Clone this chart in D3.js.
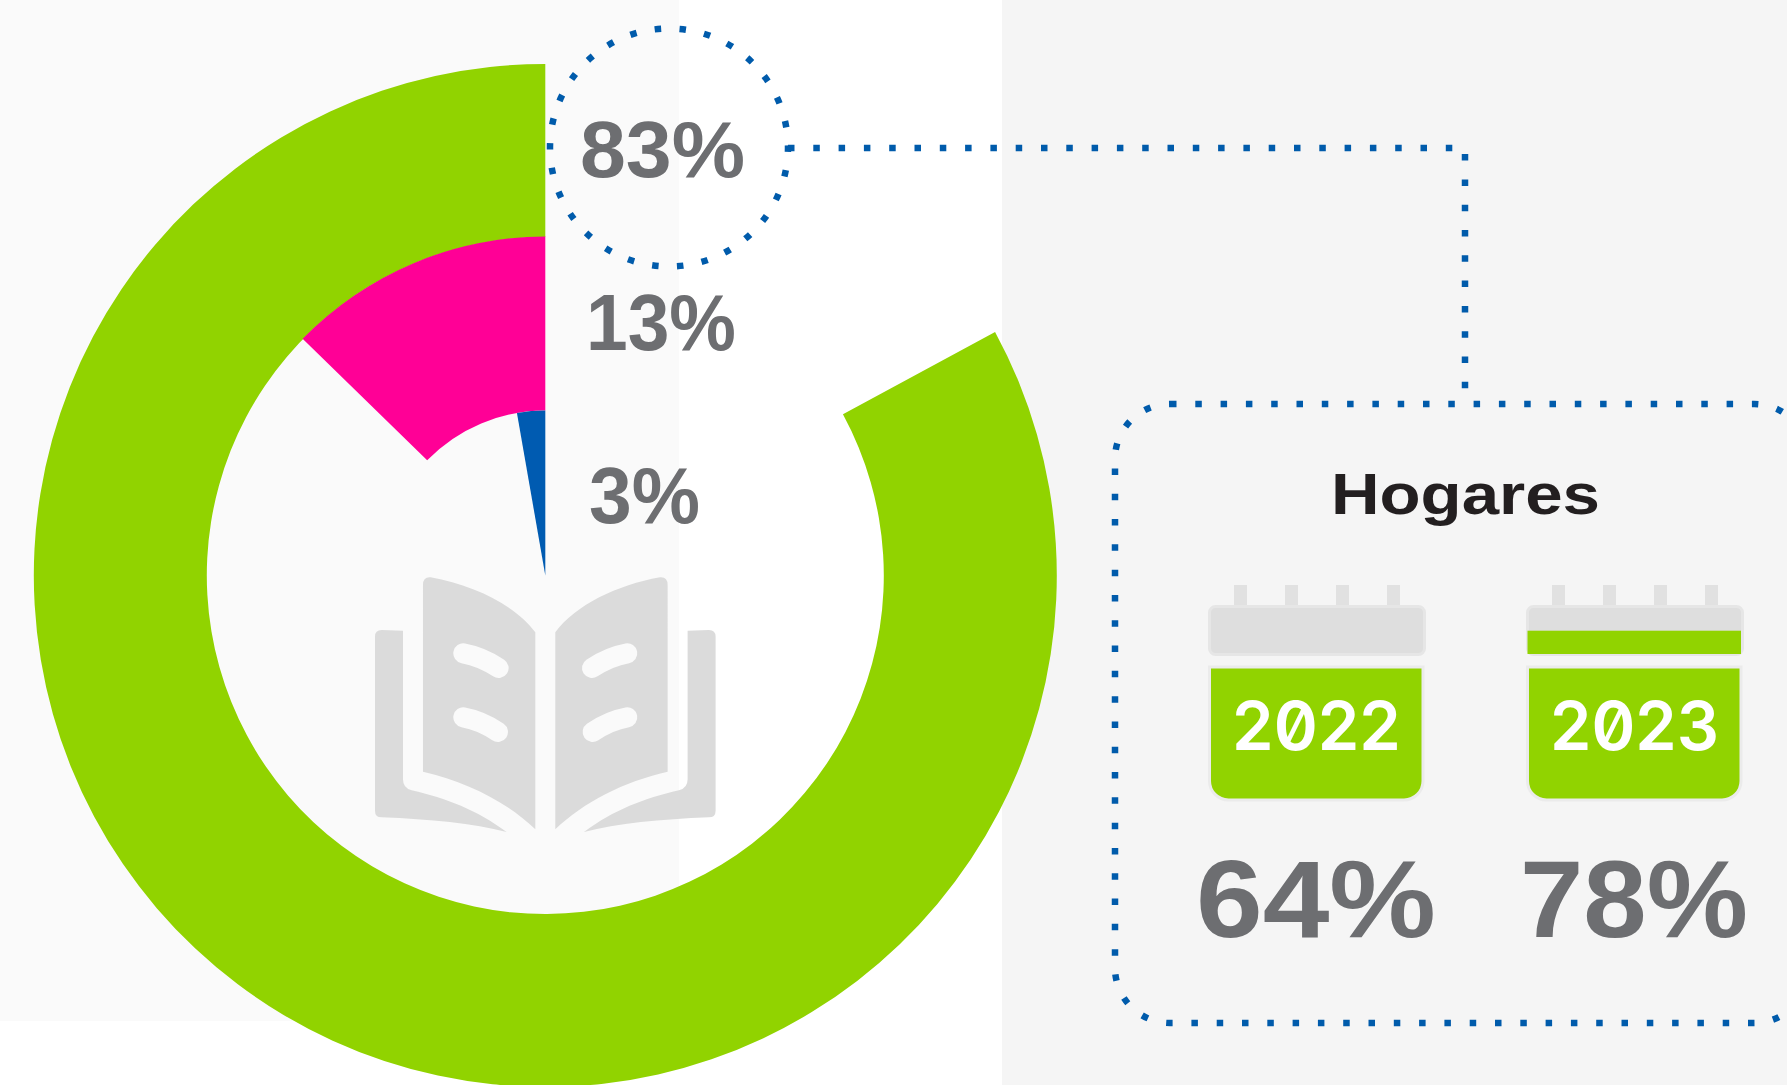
<!DOCTYPE html>
<html><head><meta charset="utf-8">
<script src="https://cdn.jsdelivr.net/npm/d3@7"></script>
<style>html,body{margin:0;padding:0;background:#fff;overflow:hidden}svg{display:block}</style>
</head><body><svg id="c" width="1787" height="1085"></svg>
<script>
const categories = ["A", "B", "C"];
const values = [82.9, 12.7, 2.75];
const valueLabels = ["83%", "13%", "3%"];
const ringColors = ["#91d300", "#ff0096", "#005bb1"];
const panelTitle = ["Hogares"];
const years = ["2022", "2023"];
const yearValues = [64, 78];

const svg = d3.select("#c");
const cx = 545.3, cy = 575.5;
const grey = "#6d6e71", dotBlue = "#005bab";

svg.append("rect").attr("x",0).attr("y",0).attr("width",679).attr("height",1021).attr("fill","#fafafa");
svg.append("rect").attr("x",1002).attr("y",0).attr("width",785).attr("height",1085).attr("fill","#f5f5f5");

// Donut rings, counter-clockwise from 12 o'clock
const angle = d3.scaleLinear().domain([0,100]).range([0,-2*Math.PI]);
const radius = d3.scaleOrdinal().domain(categories).range([[338.5,511.5],[165,339],[0,165]]);
const arc = d3.arc();
const g = svg.append("g").attr("transform",`translate(${cx},${cy})`);
g.selectAll("path").data(categories).join("path")
  .attr("fill",(d,i)=>ringColors[i])
  .attr("d",(d,i)=>arc({innerRadius:radius(d)[0],outerRadius:radius(d)[1],startAngle:0,endAngle:angle(values[i])}));

// Book icon
const book = svg.append("g").attr("transform",`translate(${cx},540) scale(0.3333) translate(-616,0)`);
function half(s){
  s.append("path").attr("fill","#dbdbdb").attr("d","M249,135 Q249,110 272,112 C400,135 525,195 586,277 L586,868 C500,785 380,725 249,695 Z");
  s.append("path").attr("fill","#dbdbdb").attr("d","M189,272 L125,270 Q105,270 105,290 L105,812 Q105,832 125,832 C270,838 400,850 500,876 C410,810 320,775 215,751 Q189,745 189,718 Z");
  s.selectAll("path.l").data(["M370,340 Q425,350 476,384","M370,532 Q425,542 474,576"]).join("path").attr("class","l")
   .attr("fill","none").attr("stroke","#fafafa").attr("stroke-width",60).attr("stroke-linecap","round").attr("d",d=>d);
}
half(book.append("g"));
half(book.append("g").attr("transform","translate(1232,0) scale(-1,1)"));

// Dotted connectors
function dotted(sel,period){
  return sel.attr("fill","none").attr("stroke",dotBlue).attr("stroke-width",6.5).attr("stroke-dasharray",`6.5 ${period-6.5}`);
}
dotted(svg.append("circle").attr("cx",669).attr("cy",147.5).attr("r",119),24.92).attr("transform","rotate(-1 669 147.5)");
dotted(svg.append("path").attr("d","M788,148 H1465 V392"),25.3);
dotted(svg.append("rect").attr("x",1115).attr("y",404).attr("width",694).attr("height",619).attr("rx",55),25.3);

// Text
function label(text,x0,x1,base,size,fill,weight,family,extra){
  const t = svg.append("text").text(text).attr("x",x0).attr("y",base)
    .attr("font-family",family).attr("font-size",size)
    .attr("font-weight",weight).attr("fill",fill)
    .attr("textLength",x1-x0).attr("lengthAdjust","spacingAndGlyphs");
  if(extra) t.style("font-feature-settings",extra);
  return t;
}
const sans = "'Liberation Sans', Arial, sans-serif";
const labelBoxes = [[580,745,176.7],[586,736,350],[589,700,523]];
valueLabels.forEach((s,i)=>label(s,labelBoxes[i][0],labelBoxes[i][1],labelBoxes[i][2],79,grey,700,sans));
label(panelTitle[0],1331,1600,514,57,"#231f20",700,sans);

// Calendars
const calX = d3.scaleOrdinal().domain(years).range([1208,1526]);
const pegs = [26,77,128,179];
years.forEach((y,i)=>{
  const x = calX(y);
  const c = svg.append("g").attr("transform",`translate(${x},0)`);
  c.selectAll("rect.p").data(pegs).join("rect").attr("class","p").attr("x",d=>d).attr("y",585).attr("width",13).attr("height",24).attr("fill","#e1e1e1");
  c.append("rect").attr("x",1.5).attr("y",606.5).attr("width",215).attr("height",48).attr("rx",6).attr("fill","#dedede").attr("stroke","#e6e6e6").attr("stroke-width",3);
  if(i===1) c.append("rect").attr("x",1.5).attr("y",630.7).attr("width",213.5).attr("height",23.3).attr("fill","#91d300");
  c.append("path").attr("fill","#91d300").attr("stroke","#ebebeb").attr("stroke-width",3)
    .attr("d","M1.5,667 H215 V781 A19,19 0 0 1 196,800 H20.5 A19,19 0 0 1 1.5,781 Z");
  label(y,x+24,x+193,750,68,"#fff",600,"Inter, sans-serif","'zero' 1");
});
const pctBoxes = [[1196,1436],[1520,1748]];
yearValues.forEach((v,i)=>label(v+"%",pctBoxes[i][0],pctBoxes[i][1],937,110,grey,700,sans));
</script></body></html>
